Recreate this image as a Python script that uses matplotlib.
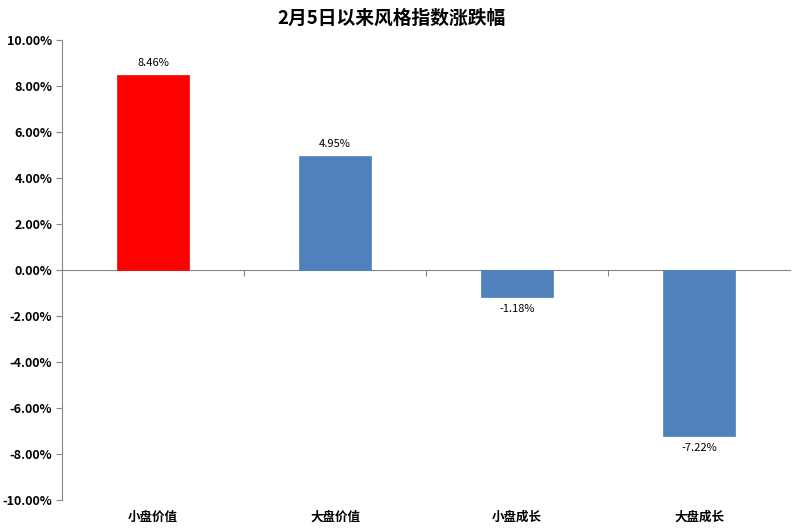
import numpy as np
import matplotlib
matplotlib.use("Agg")
from matplotlib import pyplot as plt
import matplotlib.transforms as mtransforms

plt.rcParams['font.family'] = ['Noto Sans CJK SC', 'DejaVu Sans']

# Data
categories = ['小盘价值', '大盘价值', '小盘成长', '大盘成长']
values = [8.46, 4.95, -1.18, -7.22]
colors = ['#ff0000', '#4f81bd', '#4f81bd', '#4f81bd']
title = '2月5日以来风格指数涨跌幅'

fig = plt.figure(figsize=(8, 5.31), dpi=100)
ax = fig.add_axes([0.0775, 0.0584, 0.91, 0.8663])

x = np.arange(len(categories))
bars = ax.bar(x, values, width=0.4, color=colors, edgecolor=colors, linewidth=0.5, zorder=3)

ax.set_xlim(-0.5, len(categories) - 0.5)
ax.set_ylim(-10, 10)
ax.set_yticks(np.arange(-10, 10.1, 2))
ax.set_yticklabels(['%.2f%%' % v for v in np.arange(-10, 10.1, 2)], fontsize=9, fontweight='bold')

for s in ['top', 'right']:
    ax.spines[s].set_visible(False)
ax.spines['left'].set_color('#868686')
ax.spines['bottom'].set_position(('data', 0))
ax.spines['bottom'].set_color('#868686')
ax.tick_params(axis='y', direction='out', length=4, color='#868686', pad=3)
ax.set_xticks([0.5, 1.5, 2.5])
ax.set_xticklabels([])
ax.tick_params(axis='x', direction='out', length=4, color='#868686')

# category labels under the plot
trans = mtransforms.blended_transform_factory(ax.transData, ax.transAxes)
for xi, c in zip(x, categories):
    ax.text(xi, -0.024, c, transform=trans, ha='center', va='top', fontsize=9, fontweight='bold')

# value labels
for xi, v in zip(x, values):
    if v >= 0:
        ax.annotate('%.2f%%' % v, (xi, v), xytext=(0, 5), textcoords='offset points',
                    ha='center', va='bottom', fontsize=8)
    else:
        ax.annotate('%.2f%%' % v, (xi, v), xytext=(0, -5), textcoords='offset points',
                    ha='center', va='top', fontsize=8)

fig.text(0.49, 0.965, title, ha='center', va='center', fontsize=13.5, fontweight='bold')

fig.savefig('out.png', dpi=100)
